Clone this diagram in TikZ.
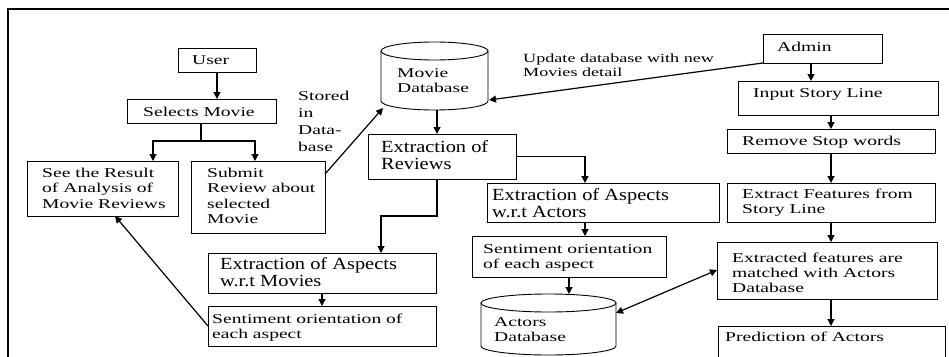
\documentclass[tikz,border=0pt]{standalone}
\usepackage{fontspec}
\setmainfont{Liberation Serif}[FakeStretch=1.45]
\newfontfamily\bigf{Liberation Serif}[FakeStretch=1.2]
\usetikzlibrary{arrows.meta,calc}
\newcommand{\fsm}{\fontsize{13.5}{15.5}\selectfont}
\newcommand{\fbg}{\bigf\fontsize{17}{17.5}\selectfont}
\begin{document}
\begin{tikzpicture}[x=1pt,y=-1pt,
  box/.style={draw, line width=0.9pt, inner sep=0pt, outer sep=0pt, anchor=north west},
  hold/.style={inner sep=0pt, outer sep=0pt, anchor=north west},
  t/.style={anchor=base west, inner sep=0pt, align=left, font=\fsm},
  tb/.style={anchor=base west, inner sep=0pt, align=left, font=\fbg},
  ln/.style={line width=1.2pt},
  arr/.style={line width=1.2pt, -{Triangle[length=7pt,width=7pt]}},
  darr/.style={line width=1.2pt, {Triangle[length=7pt,width=7pt]}-{Triangle[length=7pt,width=7pt]}},
  cyl/.style={line width=0.9pt}]
\useasboundingbox (0,0) rectangle (949,356);
\clip (0,0) rectangle (949,356);
% frame
\coordinate (f1) at (8,9);
\draw[line width=1.5pt] (8,360) -- (f1) -- (952,9);
% boxes
\node[box, minimum width=78pt, minimum height=24pt] (user) at (178,48) {};
\node[box, minimum width=149pt, minimum height=24pt] (sel) at (127,99) {};
\node[box, minimum width=151pt, minimum height=55pt] (see) at (27,161) {};
\node[box, minimum width=134pt, minimum height=72pt] (sub) at (191,161) {};
\node[box, minimum width=148pt, minimum height=45pt] (rev) at (368,134) {};
\node[box, minimum width=228pt, minimum height=40pt] (eam) at (208,253) {};
\node[box, minimum width=228pt, minimum height=40pt] (soL) at (208,306) {};
\node[box, minimum width=232pt, minimum height=39pt] (eaa) at (487,183) {};
\node[box, minimum width=194pt, minimum height=41pt] (soR) at (472,236) {};
\node[box, minimum width=119pt, minimum height=29pt] (admin) at (763,34) {};
\node[box, minimum width=200pt, minimum height=34pt] (isl) at (738,81) {};
\node[box, minimum width=208pt, minimum height=24pt] (rsw) at (727,129) {};
\node[box, minimum width=208pt, minimum height=39pt] (efs) at (727,183) {};
\node[box, minimum width=220pt, minimum height=57pt] (efm) at (717,242) {};
\node[box, minimum width=227pt, minimum height=44pt] (pred) at (718,326) {};
% cylinders
\node[hold, minimum width=107pt, minimum height=68pt] (mdb) at (381,42) {};
\draw[cyl] (434.5,51) ellipse [x radius=53.5pt, y radius=9pt];
\draw[cyl] (381,51) -- (381,101) arc[start angle=180, end angle=360, x radius=53.5pt, y radius=9pt] -- (488,51);
\node[hold, minimum width=135pt, minimum height=61pt] (adb) at (481,294) {};
\draw[cyl] (548.5,303) ellipse [x radius=67.5pt, y radius=9pt];
\draw[cyl] (481,303) -- (481,346) arc[start angle=180, end angle=360, x radius=67.5pt, y radius=9pt] -- (616,303);
% texts (base anchor = baseline of last line)
\node[t] (userT) at (192,64) {User};
\node[t] (selT) at (143,116) {Selects Movie};
\node[t] (seeT) at (42,208) {See the Result\\of Analysis of\\Movie Reviews};
\node[t] (subT) at (207,223.5) {Submit\\Review about\\selected\\Movie};
\node[t] (stT) at (298,151) {Stored\\[1.2pt]in\\[1.2pt]Data-\\[1.2pt]base};
\node[t] (mdbT) at (397,92.5) {Movie\\Database};
\node[t, font=\fontsize{12.5}{14}\selectfont] (updT) at (523,76) {Update database with new\\Movies detail};
\node[tb] (revT) at (381,169.5) {Extraction of\\Reviews};
\node[tb] (eaaT) at (492,217.5) {Extraction of Aspects\\w.r.t Actors};
\node[t] (soRT) at (483,268.5) {Sentiment orientation\\of each aspect};
\node[t] (adbT) at (494,341.5) {Actors\\Database};
\node[tb] (eamT) at (220,286.5) {Extraction of Aspects\\w.r.t Movies};
\node[t] (soLT) at (212,338.5) {Sentiment orientation of\\each aspect};
\node[t] (adminT) at (777,51) {Admin};
\node[t] (islT) at (753,97) {Input Story Line};
\node[t] (rswT) at (742,145) {Remove Stop words};
\node[t] (efsT) at (742,213.5) {Extract Features from\\Story Line};
\node[t] (efmT) at (732,292.5) {Extracted features are\\[-0.5pt]matched with Actors\\[-0.5pt]Database};
\node[t] (predT) at (725,341) {Prediction of Actors};
% connectors
\draw[arr] (user.south) -- (user.south |- sel.north);
\coordinate (j1) at (201,141);
\coordinate (seeIn) at (153,161);
\coordinate (subIn) at (255,161);
\draw[ln] (sel.south -| j1) -- (j1);
\draw[arr] (j1) -| (seeIn);
\draw[arr] (j1) -| (subIn);
\coordinate (subOut) at (325,174);
\coordinate (mdbIn) at (383,108);
\draw[arr] (subOut) -- (mdbIn);
\coordinate (mdbR) at (489,100);
\draw[arr] (admin.south west) -- (mdbR);
\coordinate (mdbB) at (437,110);
\draw[arr] (mdbB) -- (mdbB |- rev.north);
\coordinate (eaaIn) at (585,183);
\draw[arr] (rev.east) -| (eaaIn);
\coordinate (revB) at (437,179);
\coordinate (eamIn) at (381,253);
\draw[arr] (revB) |- ($(revB)!0.5!(eamIn)$) -| (eamIn);
\draw[arr] (eam.south -| soL.north) -- (soL.north);
\coordinate (seeB) at (115,216);
\draw[arr] (soL.west) -- (seeB);
\draw[arr] (eaa.south -| eaaIn) -- (soR.north -| eaaIn);
\draw[arr] (soR.south) -- (soR.south |- adb.north);
\coordinate (adbR) at (616,313);
\coordinate (efmL) at (717,270);
\draw[darr] (adbR) -- (efmL);
\coordinate (adminB) at (811,63);
\draw[arr] (adminB) -- (adminB |- isl.north);
\draw[arr] (isl.south -| rsw.north) -- (rsw.north);
\draw[arr] (rsw.south) -- (efs.north);
\draw[arr] (efs.south) -- (efs.south |- efm.north);
\draw[arr] (efm.south -| efs.south) -- (efs.south |- pred.north);
\end{tikzpicture}
\end{document}
